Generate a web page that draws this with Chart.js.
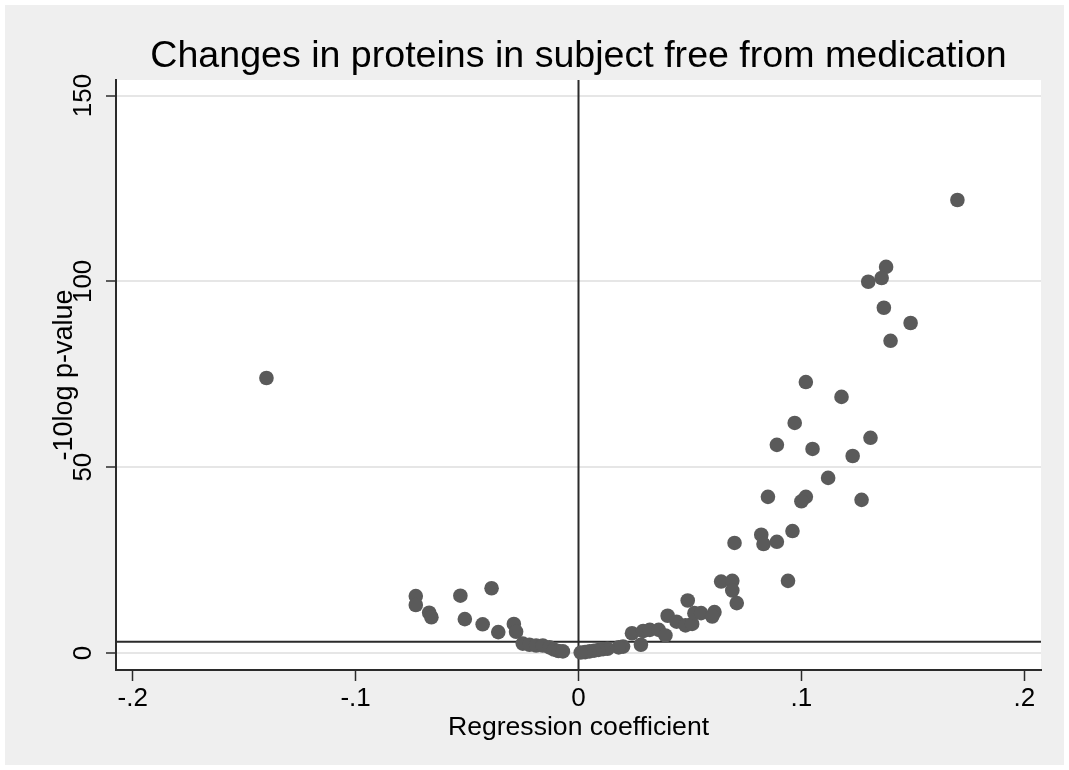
<!DOCTYPE html>
<html lang="en">
<head>
    <meta charset="UTF-8">
    <title>Changes in proteins in subject free from medication</title>
    <script src="https://cdn.jsdelivr.net/npm/chart.js"></script>
    <style>
        body { margin: 0; background: #fff; }
        canvas { display: block; }
    </style>
</head>
<body>
<canvas id="volcano" width="1069" height="770"></canvas>

<script>
    const chartTitle = 'Changes in proteins in subject free from medication';
    const xTitle = 'Regression coefficient';
    const yTitle = '-10log p-value';

    // regression coefficient and -10log p-value per protein
    const coefX = [
        0.170, 0.138, 0.136, 0.130, 0.137, 0.149, 0.140, -0.140, 0.102, 0.118,
        0.097, 0.131, 0.089, 0.105, 0.123, 0.112, 0.085, 0.102, 0.100, 0.127,
        0.096, 0.082, 0.083, 0.089, 0.070, 0.094, 0.064, 0.069, 0.069, 0.071,
        0.049, 0.040, 0.044, 0.048, 0.051, 0.052, 0.055, 0.061, 0.060, 0.024,
        0.028, 0.029, 0.032, 0.036, 0.039, 0.020, 0.018, 0.013, 0.011, 0.009,
        0.007, 0.005, 0.003, 0.001,
        -0.073, -0.073, -0.067, -0.066, -0.053, -0.051, -0.039, -0.043, -0.036, -0.029,
        -0.028, -0.025, -0.022, -0.019, -0.016, -0.013, -0.011, -0.009, -0.007
    ];
    const logP = [
        121.9, 103.9, 100.9, 99.9, 92.9, 88.8, 84.0, 74.0, 72.9, 68.9,
        61.9, 57.9, 56.0, 54.9, 53.0, 47.1, 42.0, 42.0, 40.8, 41.2,
        32.8, 31.8, 29.3, 29.9, 29.6, 19.4, 19.2, 19.4, 16.8, 13.4,
        14.1, 10.0, 8.4, 7.4, 7.8, 10.7, 10.7, 11.0, 9.8, 5.3,
        2.2, 5.9, 6.2, 6.2, 4.7, 1.7, 1.5, 1.1, 1.0, 0.8,
        0.6, 0.4, 0.2, 0.1,
        15.3, 12.9, 10.8, 9.6, 15.4, 9.1, 17.4, 7.7, 5.6, 7.8,
        5.7, 2.5, 2.2, 2.0, 2.0, 1.5, 0.9, 0.5, 0.4
    ];

    const xTicks = [-0.2, -0.1, 0, 0.1, 0.2];
    const xTickLabels = ['-.2', '-.1', '0', '.1', '.2'];
    const yTicks = [0, 50, 100, 150];
    const xRange = [-0.2075, 0.2075];
    const yRange = [-4.6, 154.2];
    const refLineX = 0;
    const refLineY = 3;

    const FONT = "'Liberation Sans', Arial, Helvetica, sans-serif";
    const INK = '#2b2b2b';

    const points = coefX.map((x, i) => ({x: x, y: logP[i]}));

    const frame = {
        id: 'frame',
        beforeDraw(chart) {
            const c = chart.ctx;
            const a = chart.chartArea;
            c.save();
            c.fillStyle = '#ffffff';
            c.fillRect(0, 0, chart.width, chart.height);
            c.fillStyle = '#efefef';
            c.fillRect(5, 5, chart.width - 10, chart.height - 10);
            c.fillStyle = '#ffffff';
            c.fillRect(a.left, a.top, a.right - a.left, a.bottom - a.top);
            c.restore();
        },
        beforeDatasetsDraw(chart) {
            const c = chart.ctx;
            const a = chart.chartArea;
            const px = chart.scales.x.getPixelForValue(refLineX);
            const py = chart.scales.y.getPixelForValue(refLineY);
            c.save();
            c.strokeStyle = INK;
            c.lineWidth = 2;
            c.beginPath();
            c.moveTo(px, a.top);
            c.lineTo(px, a.bottom);
            c.moveTo(a.left, py);
            c.lineTo(a.right, py);
            c.stroke();
            c.restore();
        },
        afterDraw(chart) {
            const c = chart.ctx;
            const a = chart.chartArea;
            c.save();
            c.fillStyle = '#000';
            c.font = '37.6px ' + FONT;
            c.textAlign = 'center';
            c.textBaseline = 'alphabetic';
            c.fillText(chartTitle, (a.left + a.right) / 2, 67);
            c.restore();
        }
    };

    new Chart(document.getElementById('volcano'), {
        type: 'scatter',
        data: {
            datasets: [{
                data: points,
                backgroundColor: '#5a5a5a',
                borderWidth: 0,
                pointRadius: 7.3,
                pointHoverRadius: 7.3
            }]
        },
        options: {
            responsive: false,
            animation: false,
            events: [],
            layout: {padding: {top: 80, right: 28, left: 0, bottom: 0}},
            plugins: {
                legend: {display: false},
                tooltip: {enabled: false}
            },
            scales: {
                x: {
                    type: 'linear',
                    min: xRange[0],
                    max: xRange[1],
                    afterBuildTicks: s => { s.ticks = xTicks.map(v => ({value: v})); },
                    afterFit: s => { s.height = 100; },
                    grid: {drawOnChartArea: false, tickLength: 11, tickColor: INK, tickWidth: 1.5},
                    border: {color: INK, width: 2},
                    ticks: {
                        color: '#000',
                        font: {family: FONT, size: 26},
                        padding: 2,
                        maxRotation: 0,
                        callback: v => xTickLabels[xTicks.indexOf(v)]
                    },
                    title: {
                        display: true,
                        text: xTitle,
                        color: '#000',
                        font: {family: FONT, size: 26.6},
                        padding: {bottom: 26}
                    }
                },
                y: {
                    type: 'linear',
                    min: yRange[0],
                    max: yRange[1],
                    afterBuildTicks: s => { s.ticks = yTicks.map(v => ({value: v})); },
                    afterFit: s => { s.width = 116; },
                    grid: {color: '#e6e6e6', lineWidth: 2, tickLength: 10, tickColor: INK, tickWidth: 1.5},
                    border: {color: INK, width: 2},
                    ticks: {
                        color: '#000',
                        font: {family: FONT, size: 26},
                        minRotation: 90,
                        maxRotation: 90,
                        crossAlign: 'center',
                        padding: 0
                    },
                    title: {
                        display: true,
                        text: yTitle,
                        color: '#000',
                        font: {family: FONT, size: 27},
                        padding: {top: 48}
                    }
                }
            }
        },
        plugins: [frame]
    });
</script>
</body>
</html>
